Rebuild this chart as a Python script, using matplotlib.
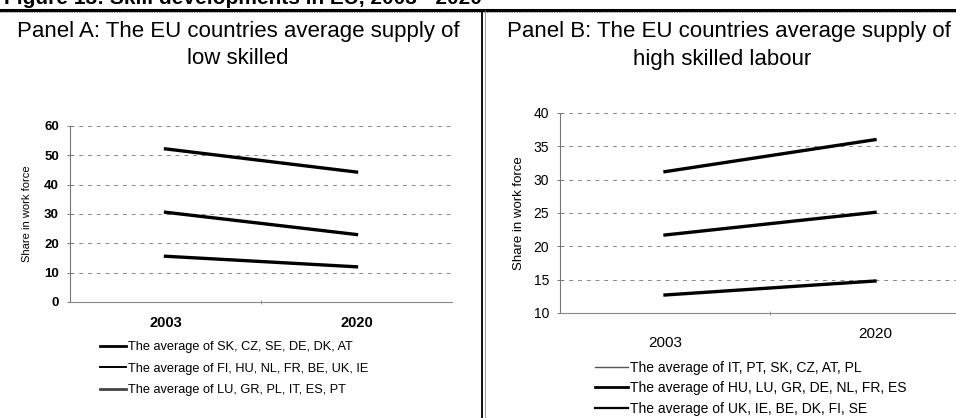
import matplotlib
matplotlib.use('Agg')
import matplotlib.pyplot as plt
from matplotlib.lines import Line2D
from matplotlib.transforms import ScaledTranslation

plt.rcParams['font.family'] = ['Liberation Sans', 'DejaVu Sans']

years = ['2003', '2020']

low_labels = ['The average of SK, CZ, SE, DE, DK, AT',
              'The average of FI, HU, NL, FR, BE, UK, IE',
              'The average of LU, GR, PL, IT, ES, PT']
low_values = [[52.2, 44.3],
              [30.6, 23.0],
              [15.6, 12.0]]

high_labels = ['The average of IT, PT, SK, CZ, AT, PL',
               'The average of HU, LU, GR, DE, NL, FR, ES',
               'The average of UK, IE, BE, DK, FI, SE']
high_values = [[12.7, 14.8],
               [21.7, 25.1],
               [31.2, 36.0]]

low_yticks = [0, 10, 20, 30, 40, 50, 60]
high_yticks = [10, 15, 20, 25, 30, 35, 40]

# legend handle styles (as they look in the scan)
low_handle_style = [dict(color='black', lw=2.0), dict(color='black', lw=1.4), dict(color='#444444', lw=2.0)]
high_handle_style = [dict(color='#555555', lw=1.0), dict(color='black', lw=2.0), dict(color='black', lw=1.6)]


def style_axis(ax, yticks, tick_bold, tick_size):
    ax.set_xlim(-0.5, 1.5)
    ax.set_ylim(yticks[0], yticks[-1])
    ax.set_yticks(yticks)
    ax.set_xticks([0, 1])
    ax.set_xticks([0.5], minor=True)
    ax.set_xticklabels(years)
    for s in ['top', 'right']:
        ax.spines[s].set_visible(False)
    ax.spines['left'].set_color('#777777')
    ax.spines['left'].set_linewidth(0.8)
    ax.spines['bottom'].set_color('#888888')
    ax.spines['bottom'].set_linewidth(0.8)
    for y in yticks[1:]:
        ax.axhline(y, color='#888888', lw=0.7, ls=(0, (4, 5)), zorder=1)
    ax.tick_params(axis='y', direction='inout', length=4, color='#777777', width=0.7, pad=6,
                   labelsize=tick_size)
    ax.tick_params(axis='x', which='major', length=0, pad=10.4, labelsize=tick_size + 1)
    ax.tick_params(axis='x', which='minor', direction='inout', length=3, color='#888888')
    w = 'bold' if tick_bold else 'normal'
    for lab in ax.get_yticklabels() + ax.get_xticklabels():
        lab.set_fontweight(w)


fig = plt.figure(figsize=(9.56, 4.18), dpi=100)

# caption cut off at the top of the scan
fig.text(0.004, 1 - 4 / 418, 'Figure 13: Skill developments in EU, 2003 - 2020',
         fontsize=15, fontweight='bold', va='baseline', ha='left')
fig.add_artist(Line2D([0, 1], [1 - 9.5 / 418] * 2, color='black', lw=2.2))
fig.add_artist(Line2D([0, 1], [1 - 12 / 418] * 2, color='#666666', lw=0.6, ls=(0, (1, 1))))
fig.add_artist(Line2D([482 / 956] * 2, [0, 1 - 10 / 418], color='black', lw=1.3))
fig.add_artist(Line2D([485 / 956] * 2, [0, 1 - 10 / 418], color='#777777', lw=0.5))

# Panel A
axA = fig.add_axes([70 / 956, 1 - 302 / 418, 382 / 956, 176 / 418])
style_axis(axA, low_yticks, True, 9.5)
for vals in low_values:
    axA.plot([0, 1], vals, color='black', lw=2.4, zorder=3)
axA.set_ylabel('Share in work force', fontsize=8, labelpad=9)
fig.text(238 / 956, 1 - 31 / 418, 'Panel A: The EU countries average supply of',
         fontsize=16, ha='center', va='center')
fig.text(238 / 956, 1 - 59 / 418, 'low skilled', fontsize=16, ha='center', va='center')
hA = [Line2D([], [], **st) for st in low_handle_style]
fig.legend(hA, low_labels, loc='upper left', bbox_to_anchor=(100 / 956, 1 - 341 / 418),
           frameon=False, fontsize=9.2, handlelength=2.0, handletextpad=0.2,
           labelspacing=0.76, borderpad=0, borderaxespad=0)

# Panel B (runs past the right edge of the scan)
axB = fig.add_axes([560 / 956, 1 - 313 / 418, 420 / 956, 200 / 418])
style_axis(axB, high_yticks, False, 10)
for vals in high_values:
    axB.plot([0, 1], vals, color='black', lw=2.4, zorder=3)
axB.set_ylabel('Share in work force', fontsize=9.5, labelpad=6)
lab0 = axB.get_xticklabels()[0]
lab0.set_transform(lab0.get_transform() + ScaledTranslation(0, -9 / 100, fig.dpi_scale_trans))
fig.text(729 / 956, 1 - 31 / 418, 'Panel B: The EU countries average supply of',
         fontsize=16, ha='center', va='center')
fig.text(722 / 956, 1 - 59 / 418, 'high skilled labour', fontsize=16, ha='center', va='center')
hB = [Line2D([], [], **st) for st in high_handle_style]
fig.legend(hB, high_labels, loc='upper left', bbox_to_anchor=(595 / 956, 1 - 361 / 418),
           frameon=False, fontsize=10, handlelength=2.4, handletextpad=0.15,
           labelspacing=0.45, borderpad=0, borderaxespad=0)

fig.savefig('out.png', dpi=100)
